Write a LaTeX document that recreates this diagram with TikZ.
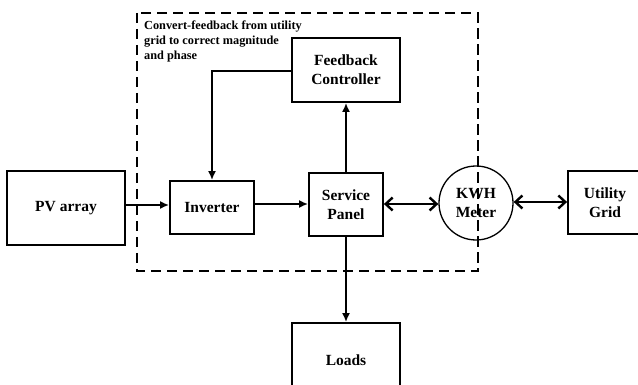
\documentclass[tikz,border=0pt]{standalone}
\usepackage{fontspec}
\setmainfont{Liberation Serif}
\usetikzlibrary{arrows.meta}
\begin{document}
\begin{tikzpicture}[x=1pt,y=-1pt,
  blk/.style={draw,line width=1.8pt,inner sep=0pt,align=center,font=\fontsize{15.5}{19}\selectfont\bfseries},
  conn/.style={line width=2.4pt,-{Latex[length=9pt,width=8pt]}},
  bidir/.style={line width=2.4pt,{Straight Barb[length=7pt,width=13pt]}-{Straight Barb[length=7pt,width=13pt]}}]
\useasboundingbox (0,0) rectangle (638,385);
\fill[white] (0,0) rectangle (638,385);
% dashed region
\draw[line width=2.8pt,dash pattern=on 10pt off 6pt] (137,13) rectangle (478,271);
\node[anchor=north west,align=left,inner sep=0pt,font=\fontsize{12.3}{15}\selectfont\bfseries] (note) at (144,21)
  {Convert-feedback from utility\\grid to correct magnitude\\and phase};
% blocks
\node[blk,minimum width=118pt,minimum height=74pt] (pv) at (66,208) {PV array};
\node[blk,minimum width=84pt,minimum height=53pt] (inv) at (212,207.5) {Inverter};
\node[blk,minimum width=74pt,minimum height=63pt] (sp) at (346,204.5) {Service\\Panel};
\node[blk,minimum width=108pt,minimum height=64pt] (fb) at (346,70) {Feedback\\Controller};
\node[blk,minimum width=108pt,minimum height=74pt] (ld) at (346,360) {Loads};
\node[blk,minimum width=74pt,minimum height=63pt] (ug) at (605,202.5) {Utility\\Grid};
\node[blk,circle,minimum size=74pt,line width=1.3pt] (kwh) at (476,203) {KWH\\Meter};
% connectors
\draw[conn] (pv.east |- 0,205) -- (inv.west |- 0,205);
\draw[conn] (inv.east |- 0,204) -- (sp.west |- 0,204);
\draw[conn] (sp.north) -- (fb.south);
\draw[conn] (sp.south) -- (ld.north);
\coordinate (bend) at (212,71);
\draw[conn] (fb.west |- bend) -- (bend) -- (inv.north);
\draw[bidir] (sp.east |- 0,204) -- (kwh.west |- 0,204);
\draw[bidir] (kwh.east |- 0,202) -- (ug.west |- 0,202);
% dashed line crosses meter on top
\draw[line width=2.8pt,dash pattern=on 10pt off 6pt] (478,13) -- (478,271);
\end{tikzpicture}
\end{document}
